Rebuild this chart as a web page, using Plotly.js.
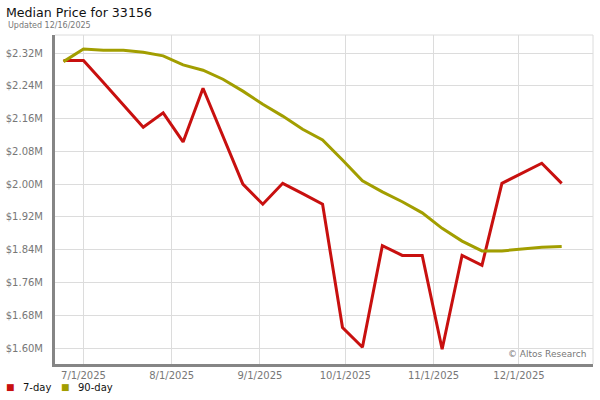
<!DOCTYPE html>
<html>
<head>
<meta charset="utf-8">
<script src="https://cdn.plot.ly/plotly-3.0.1.min.js"></script>
<style>html,body{margin:0;padding:0;background:#fff}#chart{width:600px;height:400px}</style>
</head>
<body>
<div id="chart"></div>
<script>
// Weekly dates (Tuesdays) 6/24/2025 .. 12/16/2025
const dates = ["2025-06-24","2025-07-01","2025-07-08","2025-07-15","2025-07-22","2025-07-29",
  "2025-08-05","2025-08-12","2025-08-19","2025-08-26","2025-09-02","2025-09-09","2025-09-16",
  "2025-09-23","2025-09-30","2025-10-07","2025-10-14","2025-10-21","2025-10-28","2025-11-04",
  "2025-11-11","2025-11-18","2025-11-25","2025-12-02","2025-12-09","2025-12-16"];
// Median price, millions of dollars
const sevenDay = [2.302,2.302,2.248,2.193,2.139,2.174,2.103,2.234,2.116,2.000,1.951,2.002,1.977,
  1.951,1.650,1.602,1.850,1.826,1.826,1.597,1.826,1.802,2.002,2.026,2.051,2.002];
const ninetyDay = [2.299,2.330,2.327,2.327,2.322,2.313,2.291,2.278,2.256,2.227,2.195,2.166,2.134,
  2.108,2.059,2.008,1.981,1.957,1.930,1.892,1.861,1.837,1.837,1.842,1.846,1.848];
const seriesNames = ["7-day","90-day"];
const seriesColors = ["#c8100f","#a29e00"];
const yTicks = [1.60,1.68,1.76,1.84,1.92,2.00,2.08,2.16,2.24,2.32];
const yTickText = yTicks.map(v => "$" + v.toFixed(2) + "M");

const font = "DejaVu Sans, Verdana, sans-serif";
const traces = [];
[sevenDay, ninetyDay].forEach((vals, i) => {
  traces.push({x: dates, y: vals, type: "scatter", mode: "lines", name: seriesNames[i],
    line: {color: seriesColors[i], width: 3}, showlegend: false, hoverinfo: "x+y"});
});

const W = 600, H = 400, L = 55, R = 7, T = 35, B = 36;
const pw = W - L - R, ph = H - T - B;

// legend built from series names / colours (square key + label)
const legendX = [10.5, 65.5];
const legendY = -(387 - 364) / ph;
const legendAnn = [];
seriesNames.forEach((n, i) => {
  legendAnn.push({text: "■", xref: "paper", yref: "paper", x: (legendX[i] - L) / pw, xanchor: "center",
    y: legendY, yanchor: "middle", showarrow: false,
    font: {family: font, size: 9, color: seriesColors[i]}});
  legendAnn.push({text: n, xref: "paper", yref: "paper", x: (legendX[i] + 10 - L) / pw, xanchor: "left",
    y: legendY, yanchor: "middle", showarrow: false,
    font: {family: font, size: 10, color: "#111"}});
});

const layout = {
  width: W, height: H,
  margin: {l: L, r: R, t: T, b: B, pad: 0},
  paper_bgcolor: "#fff", plot_bgcolor: "#fff",
  font: {family: font, size: 10, color: "#777"},
  title: {text: "Median Price for 33156", x: 6 / W, xanchor: "left", xref: "container",
    y: 1 - 13 / H, yanchor: "middle", yref: "container", font: {family: font, size: 12.6, color: "#111"}},
  xaxis: {
    type: "date",
    range: ["2025-06-21", "2025-12-27"],
    tick0: "2025-07-01", dtick: "M1", tickformat: "%-m/%-d/%Y",
    showgrid: true, gridcolor: "#dcdcdc", gridwidth: 1,
    showline: true, linecolor: "#858585", linewidth: 3,
    ticks: "", tickfont: {family: font, size: 10, color: "#777"},
    zeroline: false, fixedrange: true, automargin: false
  },
  yaxis: {
    range: [1.561, 2.364],
    tickmode: "array", tickvals: yTicks, ticktext: yTickText,
    showgrid: true, gridcolor: "#dcdcdc", gridwidth: 1,
    showline: true, linecolor: "#858585", linewidth: 3,
    ticks: "", ticklabelstandoff: 7, tickfont: {family: font, size: 10, color: "#777"},
    zeroline: false, fixedrange: true, automargin: false
  },
  shapes: [
    {type: "line", xref: "paper", yref: "paper", x0: 0, x1: 1, y0: 1, y1: 1,
     line: {color: "#dcdcdc", width: 1}},
    {type: "line", xref: "paper", yref: "paper", x0: 1, x1: 1, y0: 0, y1: 1,
     line: {color: "#dcdcdc", width: 1}}
  ],
  annotations: [
    {text: "Updated 12/16/2025", xref: "paper", yref: "paper", x: (6 - L) / pw, xanchor: "left",
     y: 1 + (T - 25) / ph, yanchor: "middle", showarrow: false,
     font: {family: font, size: 8, color: "#777"}},
    {text: "© Altos Research", xref: "paper", yref: "paper", x: (588 - L) / pw, xanchor: "right",
     y: (364 - 354) / ph, yanchor: "middle", showarrow: false,
     font: {family: font, size: 9, color: "#777"}}
  ].concat(legendAnn),
  showlegend: false
};

Plotly.newPlot("chart", traces, layout, {displayModeBar: false, staticPlot: true});
</script>
</body>
</html>
